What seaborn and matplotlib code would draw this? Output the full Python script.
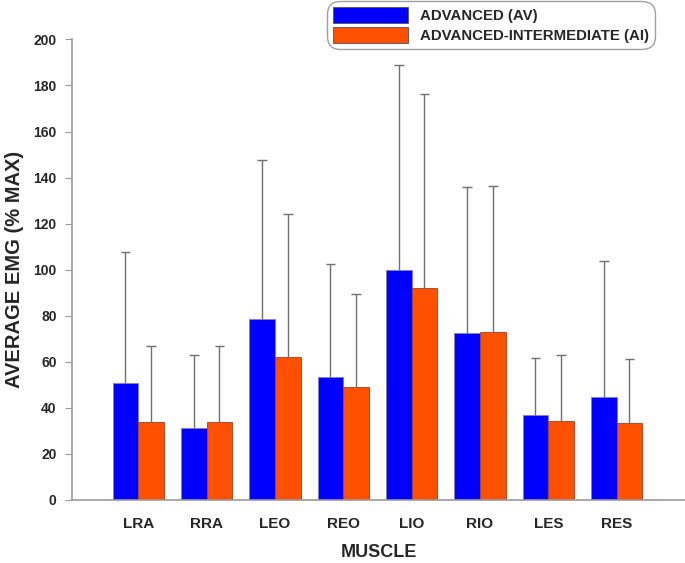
import numpy as np
import pandas as pd
import matplotlib.pyplot as plt
import seaborn as sns
from matplotlib.patches import Patch

# Data
muscles = ["LRA", "RRA", "LEO", "REO", "LIO", "RIO", "LES", "RES"]
groups = ["ADVANCED (AV)", "ADVANCED-INTERMEDIATE (AI)"]
av_mean = [50.6, 31.2, 78.7, 53.2, 99.9, 72.3, 36.8, 44.6]
av_sd = [56.9, 31.7, 68.8, 49.4, 89.1, 63.4, 24.8, 59.3]
ai_mean = [33.8, 33.8, 61.9, 49.1, 92.0, 72.8, 34.1, 33.6]
ai_sd = [33.0, 33.0, 62.3, 40.3, 84.4, 63.7, 28.8, 27.7]
colors = ["#0000FF", "#FF5000"]

df = pd.DataFrame({
    "muscle": muscles * 2,
    "group": [groups[0]] * len(muscles) + [groups[1]] * len(muscles),
    "value": av_mean + ai_mean,
    "sd": av_sd + ai_sd,
})

sns.set_style("white")
plt.rcParams["font.family"] = ["Liberation Sans", "DejaVu Sans"]
plt.rcParams["font.weight"] = "bold"

fig = plt.figure(figsize=(6.85, 5.63), dpi=100)
ax = fig.add_axes([0.105, 0.112, 0.895, 0.818])

sns.barplot(data=df, x="muscle", y="value", hue="group", palette=colors,
            width=0.75, gap=0, saturation=1, legend=False, errorbar=None, ax=ax)

edge_cols = ["#8080c0", "#a04020"]
for i, bar in enumerate(ax.patches):
    bar.set_edgecolor(edge_cols[i // len(muscles)])
    bar.set_linewidth(0.6)

# one-sided error bars (upper only)
xs = np.array([b.get_x() + b.get_width() / 2 for b in ax.patches])
means = df["value"].to_numpy()
sds = df["sd"].to_numpy()
tops = means + sds
ax.vlines(xs, means, tops, color="#707070", lw=1)
ax.hlines(tops, xs - 0.07, xs + 0.07, color="#707070", lw=1)

ax.set_xlim(-0.97, 8.0)
ax.set_ylim(0, 200)
ax.set_yticks(range(0, 201, 20))
ax.set_ylabel("AVERAGE EMG (% MAX)", fontsize=14.5, fontweight="bold", labelpad=7)
ax.set_xlabel("MUSCLE", fontsize=13, fontweight="bold", labelpad=10)
ax.tick_params(axis="y", direction="out", length=5, color="#999999", labelsize=10, pad=6, left=True)
ax.tick_params(axis="x", length=0, labelsize=11, pad=12)
for lab in ax.get_xticklabels() + ax.get_yticklabels():
    lab.set_fontweight("bold")
sns.despine(ax=ax)
for s in ["left", "bottom"]:
    ax.spines[s].set_color("#999999")
    ax.spines[s].set_linewidth(1.2)

handles = [Patch(facecolor=c, edgecolor="#555555", lw=0.6) for c in colors]
leg = fig.legend(handles, groups, loc="upper left", bbox_to_anchor=(0.476, 1.0),
                 frameon=True, fancybox=True, edgecolor="#888888",
                 prop={"weight": "bold", "size": 10.8},
                 handlelength=5.0, handleheight=1.3, handletextpad=0.8,
                 labelspacing=0.25, borderpad=0.4, borderaxespad=0.05)
leg.get_frame().set_linewidth(1.0)
leg.get_frame().set_boxstyle("round,pad=0,rounding_size=0.9")

fig.savefig("out.png", dpi=100)
